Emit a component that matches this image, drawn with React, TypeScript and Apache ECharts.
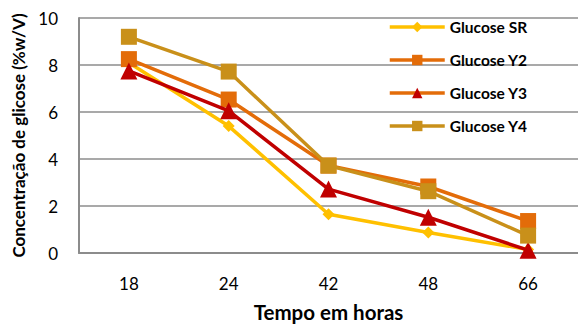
import React, { useEffect, useRef } from "react";
import * as echarts from "echarts";

const categories = ["18", "24", "42", "48", "66"];
const glucoseSR = [8.1, 5.4, 1.65, 0.87, 0.15];
const glucoseY2 = [8.25, 6.53, 3.72, 2.83, 1.36];
const glucoseY3 = [7.75, 6.05, 2.72, 1.52, 0.12];
const glucoseY4 = [9.2, 7.72, 3.72, 2.63, 0.74];
const yTicks = { min: 0, max: 10, interval: 2 };

const FONT = "Lato, 'Open Sans', sans-serif";

export default function App() {
  const ref = useRef<HTMLDivElement>(null);
  useEffect(() => {
    if (!ref.current) return;
    const chart = echarts.init(ref.current, undefined, { renderer: "svg" });
    const mk = (name: string, data: number[], color: string, symbol: string, size: number, z: number) => ({
      name,
      type: "line",
      data,
      symbol,
      symbolSize: size,
      z,
      lineStyle: { color, width: 3.5 },
      itemStyle: { color, borderWidth: 0 },
      emphasis: { disabled: true },
    });
    chart.setOption({
      animation: false,
      textStyle: { fontFamily: FONT },
      grid: { left: 79, top: 18, width: 502, height: 240, containLabel: false },
      legend: {
        orient: "vertical",
        left: 388,
        top: 19,
        padding: 0,
        itemWidth: 55,
        itemHeight: 13,
        itemGap: 17,
        itemStyle: { borderWidth: 0 },
        textStyle: { fontFamily: FONT, fontWeight: "bold", fontSize: 15.5, color: "#000" },
        data: [
          { name: "Glucose SR", itemStyle: { color: "#FFC000" }, lineStyle: { color: "#FFC000", width: 3.5 } },
          { name: "Glucose Y2", itemStyle: { color: "#E36C09" }, lineStyle: { color: "#E36C09", width: 3.5 } },
          { name: "Glucose Y3", itemStyle: { color: "#C00000" }, lineStyle: { color: "#E36C09", width: 3.5 } },
          { name: "Glucose Y4", itemStyle: { color: "#C9901A" }, lineStyle: { color: "#C9901A", width: 3.5 } },
        ],
      },
      xAxis: {
        type: "category",
        data: categories,
        boundaryGap: true,
        name: "Tempo em horas",
        nameLocation: "middle",
        nameGap: 48,
        nameTextStyle: { fontFamily: FONT, fontWeight: "bold", fontSize: 20.5, color: "#000" },
        axisLine: { lineStyle: { color: "#8C8C8C", width: 2 } },
        axisTick: { show: false },
        axisLabel: { fontFamily: FONT, fontSize: 17, color: "#000", margin: 22 },
        splitLine: { show: false },
      },
      yAxis: {
        type: "value",
        ...yTicks,
        name: "Concentração de glicose (%w/V)",
        nameLocation: "middle",
        nameGap: 51,
        nameTextStyle: { fontFamily: FONT, fontWeight: "bold", fontSize: 17, color: "#000" },
        axisLine: { show: true, lineStyle: { color: "#8C8C8C", width: 2 } },
        axisTick: { show: false },
        axisLabel: { fontFamily: FONT, fontSize: 17, color: "#000", margin: 21 },
        splitLine: { lineStyle: { color: "#8C8C8C", width: 1.5 } },
      },
      series: [
        mk("Glucose SR", glucoseSR, "#FFC000", "diamond", 12, 2),
        mk("Glucose Y2", glucoseY2, "#E36C09", "rect", 16, 3),
        mk("Glucose Y3", glucoseY3, "#C00000", "triangle", 17, 4),
        mk("Glucose Y4", glucoseY4, "#C9901A", "rect", 16, 5),
      ],
    });
    return () => chart.dispose();
  }, []);
  return <div ref={ref} style={{ width: 578, height: 327, position: "absolute", left: 0, top: 0 }} />;
}
